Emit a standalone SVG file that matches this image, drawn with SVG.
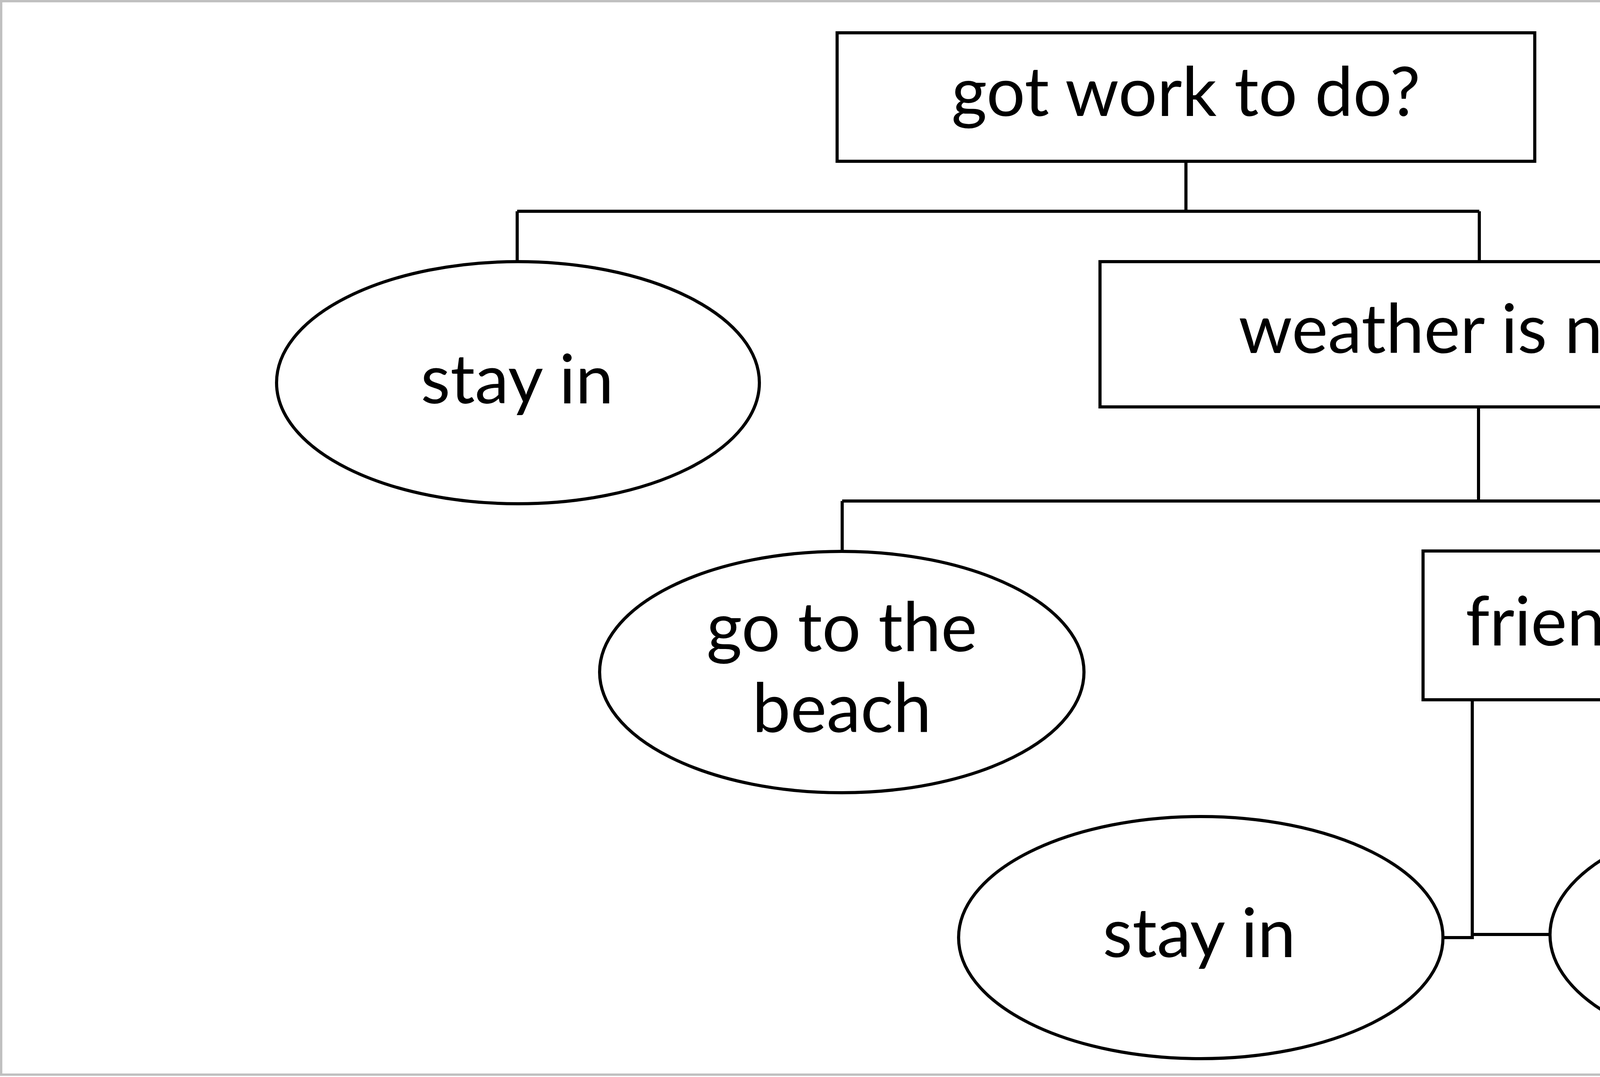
<svg xmlns="http://www.w3.org/2000/svg" width="6016" height="2758" viewBox="0 0 6016 2758">
<style>
.shape{fill:#ffffff;stroke:#000000;stroke-width:8}
.conn{fill:none;stroke:#000000;stroke-width:8}
.lbl{font-family:Lato,"Open Sans","Liberation Sans",sans-serif;font-size:175px;fill:#000000;text-anchor:middle}
</style>
<rect x="0" y="0" width="6016" height="2758" fill="#ffffff"/>
<rect x="3" y="3" width="6007" height="2749" fill="none" stroke="#c0c0c0" stroke-width="6"/>
<g id="connectors">
<path class="conn" d="M3036 413 V541 M1324 541 H3787 M1324 541 V672 M3787 541 V672"/>
<path class="conn" d="M3785 1042 V1283 M2156 1283 H4263 M2156 1283 V1413 M4263 1283 V1413"/>
<path class="conn" d="M3769 1792 V2401 H3694 M3769 2393 H3968"/>
</g>
<g id="node-got-work">
<rect class="shape" x="2143" y="84" width="1786" height="329"/>
<text class="lbl" x="3036" y="297">got work to do?</text>
</g>
<g id="node-stay-in-1">
<ellipse class="shape" cx="1326" cy="980" rx="618" ry="310"/>
<text class="lbl" x="1324" y="1033">stay in</text>
</g>
<g id="node-weather">
<rect class="shape" x="2816" y="670" width="1938" height="372"/>
<text class="lbl" x="3782" y="904">weather is nice?</text>
</g>
<g id="node-beach">
<ellipse class="shape" cx="2155" cy="1721" rx="620" ry="309"/>
<text class="lbl" x="2155" y="1668">go to the</text>
<text class="lbl" x="2155" y="1875">beach</text>
</g>
<g id="node-friends">
<rect class="shape" x="3643" y="1411" width="1239" height="381"/>
<text class="lbl" x="4259" y="1653">friends busy?</text>
</g>
<g id="node-stay-in-2">
<ellipse class="shape" cx="3074" cy="2401" rx="620" ry="310"/>
<text class="lbl" x="3070" y="2451">stay in</text>
</g>
<g id="node-movies">
<ellipse class="shape" cx="4582" cy="2394" rx="614" ry="310"/>
<text class="lbl" x="4582" y="2341">go to</text>
<text class="lbl" x="4582" y="2549">movies</text>
</g>
</svg>
